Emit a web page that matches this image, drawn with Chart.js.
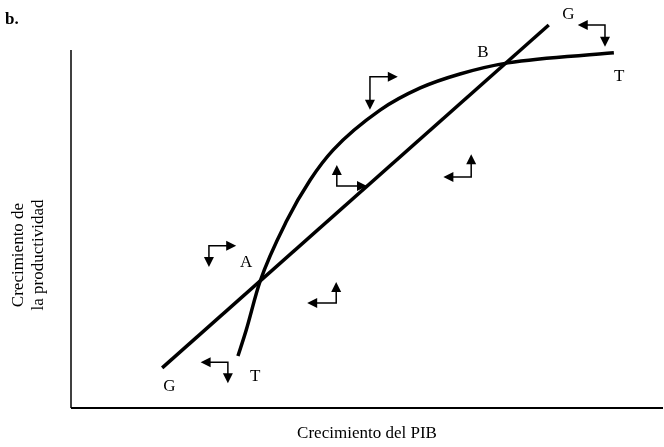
<!DOCTYPE html>
<html lang="es">
<head>
    <meta charset="UTF-8">
    <title>Crecimiento de la productividad y del PIB</title>
    <script src="https://cdn.jsdelivr.net/npm/chart.js"></script>
    <style>
        html, body { margin: 0; padding: 0; background: #fff; }
        #wrap { position: relative; width: 664px; height: 447px; }
    </style>
</head>
<body>
<div id="wrap"><canvas id="chart" width="664" height="447"></canvas></div>
<script>
// Curva G (recta): dos extremos, escala 0-100 en ambos ejes
const gX = [15.4, 80.7];
const gY = [11.2, 107.0];

// Curva T
const tX = [28.2, 29.6, 31.9, 36.5, 40.4, 44.3, 52.2, 59.0, 65.7, 73.8, 91.7];
const tY = [14.5, 21.8, 35.2, 52.5, 63.7, 72.1, 83.2, 89.4, 93.3, 96.4, 99.2];

// Flechas de ajuste: esquina (x, y) y brazos horizontal / vertical
const arrowX  = [23.3, 50.5, 44.9, 67.6, 44.8, 26.5, 90.2];
const arrowY  = [45.3, 92.5, 62.0, 64.5, 29.3, 12.8, 107.0];
const arrowDX = [4.6, 4.7, 5.1, -4.7, -4.9, -4.6, -4.6];
const arrowDY = [-5.9, -9.2, 5.9, 6.4, 5.9, -5.9, -6.1];

// Etiquetas de puntos y curvas
const labelText = ["A", "B", "G", "T", "G", "T"];
const labelX = [29.6, 69.6, 84.0, 92.6, 16.6, 31.1];
const labelY = [40.5, 99.4, 109.8, 92.5, 5.9, 8.7];

const serif = "'Liberation Serif', 'DejaVu Serif', serif";

function toPoints(xs, ys) {
    return xs.map((x, i) => ({ x: x, y: ys[i] }));
}

// Ejes, flechas y textos
const decor = {
    id: "decor",
    afterDatasetsDraw(chart) {
        const ctx = chart.ctx;
        const a = chart.chartArea;
        const sx = chart.scales.x, sy = chart.scales.y;
        ctx.save();
        ctx.strokeStyle = "#000";
        ctx.fillStyle = "#000";

        // ejes
        ctx.lineWidth = 1.5;
        ctx.beginPath();
        ctx.moveTo(a.left, a.top);
        ctx.lineTo(a.left, a.bottom);
        ctx.stroke();
        ctx.lineWidth = 2;
        ctx.beginPath();
        ctx.moveTo(a.left, a.bottom);
        ctx.lineTo(a.right, a.bottom);
        ctx.stroke();

        // flechas
        function head(x, y, dx, dy) {
            const len = 10, w = 5;
            ctx.beginPath();
            ctx.moveTo(x, y);
            ctx.lineTo(x - dx * len - dy * w, y - dy * len + dx * w);
            ctx.lineTo(x - dx * len + dy * w, y - dy * len - dx * w);
            ctx.closePath();
            ctx.fill();
        }
        ctx.lineWidth = 1.5;
        arrowX.forEach((v, i) => {
            const cx = sx.getPixelForValue(v), cy = sy.getPixelForValue(arrowY[i]);
            const hx = sx.getPixelForValue(v + arrowDX[i]);
            const vy = sy.getPixelForValue(arrowY[i] + arrowDY[i]);
            const sh = Math.sign(hx - cx), sv = Math.sign(vy - cy);
            ctx.beginPath();
            ctx.moveTo(hx - sh * 8, cy);
            ctx.lineTo(cx, cy);
            ctx.lineTo(cx, vy - sv * 8);
            ctx.stroke();
            head(hx, cy, sh, 0);
            head(cx, vy, 0, sv);
        });

        // etiquetas
        ctx.font = "17px " + serif;
        ctx.textAlign = "center";
        ctx.textBaseline = "middle";
        labelText.forEach((t, i) => {
            ctx.fillText(t, sx.getPixelForValue(labelX[i]), sy.getPixelForValue(labelY[i]));
        });

        // "b."
        ctx.font = "bold 17px " + serif;
        ctx.textAlign = "left";
        ctx.textBaseline = "alphabetic";
        ctx.fillText("b.", 5, 24);

        // títulos de ejes
        ctx.font = "17px " + serif;
        ctx.textAlign = "center";
        ctx.fillText("Crecimiento del PIB", (a.left + a.right) / 2, 438);
        ctx.translate(0, 255);
        ctx.rotate(-Math.PI / 2);
        ctx.fillText("Crecimiento de", 0, 23);
        ctx.fillText("la productividad", 0, 43);
        ctx.restore();
    }
};

new Chart(document.getElementById("chart"), {
    type: "line",
    data: {
        datasets: [
            {
                label: "G",
                data: toPoints(gX, gY),
                borderColor: "#000",
                borderWidth: 3.5,
                pointRadius: 0,
                clip: false
            },
            {
                label: "T",
                data: toPoints(tX, tY),
                borderColor: "#000",
                borderWidth: 3.5,
                pointRadius: 0,
                cubicInterpolationMode: "monotone",
                clip: false
            }
        ]
    },
    options: {
        responsive: false,
        animation: false,
        events: [],
        layout: { padding: { left: 71, top: 50, right: 1, bottom: 39 } },
        scales: {
            x: { type: "linear", min: 0, max: 100, display: false },
            y: { type: "linear", min: 0, max: 100, display: false }
        },
        plugins: {
            legend: { display: false },
            tooltip: { enabled: false }
        }
    },
    plugins: [decor]
});
</script>
</body>
</html>
